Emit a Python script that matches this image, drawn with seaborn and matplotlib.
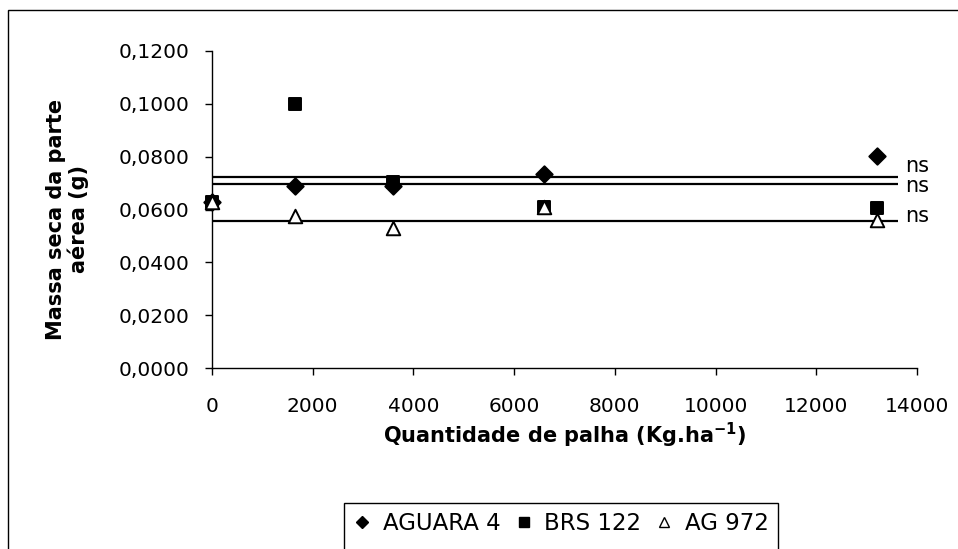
import matplotlib
matplotlib.use("Agg")
import matplotlib.pyplot as plt
import seaborn as sns
import pandas as pd
from matplotlib.lines import Line2D
from matplotlib.patches import Rectangle
from matplotlib.ticker import FuncFormatter

# ---- data ----
palha = [0, 1650, 3600, 6600, 13200]
aguara4 = [0.0630, 0.0690, 0.0688, 0.0735, 0.0802]
brs122 = [0.0630, 0.1000, 0.0705, 0.0610, 0.0604]
ag972 = [0.0628, 0.0575, 0.0529, 0.0610, 0.0560]
series_names = ["AGUARA 4", "BRS 122", "AG 972"]
mean_lines = [0.0724, 0.0695, 0.0556]
mean_labels = ["ns", "ns", "ns"]
line_xmax = 13620
x_ticks = [0, 2000, 4000, 6000, 8000, 10000, 12000, 14000]
y_ticks = [0.0, 0.02, 0.04, 0.06, 0.08, 0.10, 0.12]

df = pd.DataFrame({
    "x": palha * 3,
    "y": aguara4 + brs122 + ag972,
    "serie": [n for n in series_names for _ in palha],
})

sns.set_theme(style="white")
plt.rcParams["font.family"] = ["DejaVu Sans"]
plt.rcParams["mathtext.fontset"] = "dejavusans"
plt.rcParams["text.color"] = "black"
plt.rcParams["axes.labelcolor"] = "black"

FS = 14.5
FS_LAB = 15
FS_LEG = 16.5

W, H = 958, 549
fig = plt.figure(figsize=(W / 100, H / 100), dpi=100)
# outer chart border (open at right/bottom like the cropped reference)
fig.patches.append(Rectangle((8 / W, -0.1), 1.0, 1.1 - 10 / H, transform=fig.transFigure,
                             fill=False, edgecolor="black", linewidth=1.0))
# legend box (cropped at the bottom in the reference)
fig.patches.append(Rectangle((344 / W, -0.1), (778 - 344) / W, 0.1 + 1 - 503 / H,
                             transform=fig.transFigure, fill=False, edgecolor="black", linewidth=1.0))
ax = fig.add_axes([212 / W, 1 - 368 / H, (917 - 212) / W, (368 - 51) / H])

# horizontal mean lines (drawn first)
for val in mean_lines:
    ax.plot([0, line_xmax], [val, val], color="black", lw=1.6, zorder=2, solid_capstyle="butt")

styles = {
    "AGUARA 4": dict(marker="D", facecolor="black", s=70),
    "BRS 122": dict(marker="s", facecolor="black", s=70),
    "AG 972": dict(marker="^", facecolor="white", s=95),
}
for name in series_names:
    st = styles[name]
    sns.scatterplot(data=df[df["serie"] == name], x="x", y="y", ax=ax,
                    marker=st["marker"], color=st["facecolor"], edgecolor="black",
                    linewidth=1.4, s=st["s"], zorder=3, legend=False, clip_on=False)

# ns labels (offsets in pixels relative to each line's end)
label_dy_px = [11, -2, 5]
for val, lab, dy in zip(mean_lines, mean_labels, label_dy_px):
    ax.annotate(lab, xy=(line_xmax, val), xytext=(7, dy), textcoords="offset pixels",
                ha="left", va="center", fontsize=FS_LAB)

ax.set_xlim(0, 14000)
ax.set_ylim(0, 0.12)
ax.set_xticks(x_ticks)
ax.set_yticks(y_ticks)
ax.yaxis.set_major_formatter(FuncFormatter(lambda v, p: f"{v:.4f}".replace(".", ",")))
ax.tick_params(axis="both", direction="out", length=5, width=1, color="black",
               labelsize=FS, labelcolor="black", left=True, bottom=True)
ax.tick_params(axis="y", pad=11)
ax.tick_params(axis="x", pad=16)
for side in ["top", "right"]:
    ax.spines[side].set_visible(False)
for side in ["left", "bottom"]:
    ax.spines[side].set_color("black")
    ax.spines[side].set_linewidth(1.0)
ax.grid(False)

ax.set_xlabel(r"Quantidade de palha (Kg.ha$^{\mathbf{-1}}$)", fontsize=FS_LAB, fontweight="bold",
              labelpad=3, color="black")
ax.set_ylabel("Massa seca da parte\naérea (g)", fontsize=FS_LAB, fontweight="bold",
              linespacing=1.1, color="black")
ax.yaxis.set_label_coords(-0.174, 0.47)

handles = [
    Line2D([], [], marker="D", linestyle="none", markerfacecolor="black", markeredgecolor="black", markersize=6),
    Line2D([], [], marker="s", linestyle="none", markerfacecolor="black", markeredgecolor="black", markersize=7),
    Line2D([], [], marker="^", linestyle="none", markerfacecolor="white", markeredgecolor="black", markersize=7, markeredgewidth=1.0),
]
leg = fig.legend(handles, series_names, loc="upper center", bbox_to_anchor=(561 / W, 1 - 503 / H),
                 ncol=3, frameon=False, fontsize=FS_LEG, handletextpad=0.5,
                 columnspacing=0.6, handlelength=0.8, borderpad=0.4, borderaxespad=0.0)
for t in leg.get_texts():
    t.set_color("black")

fig.savefig("out.png", dpi=100)
